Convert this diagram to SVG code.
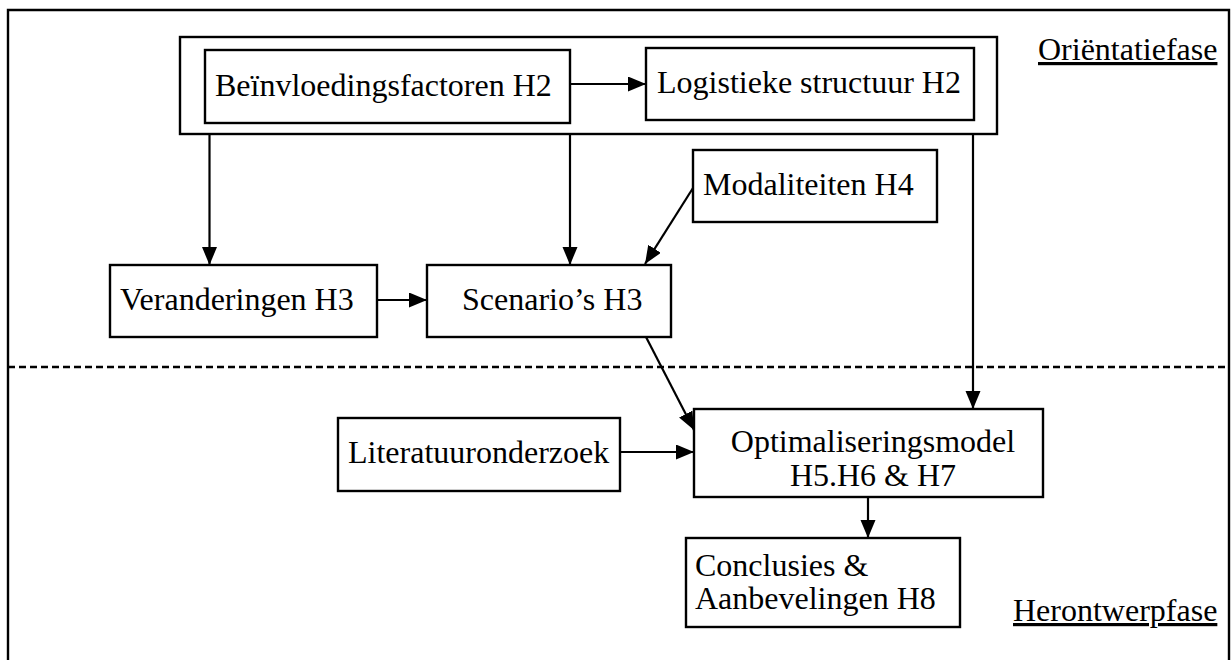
<svg xmlns="http://www.w3.org/2000/svg" width="1231" height="660" viewBox="0 0 1231 660">
  <style>
    .box { fill: #fff; stroke: #000; stroke-width: 2.4; }
    .frame { fill: none; stroke: #000; stroke-width: 2.4; }
    .lbl { font-family: "Liberation Serif", "Times New Roman", serif; font-size: 32px; fill: #000; }
    .phase { font-family: "Liberation Serif", "Times New Roman", serif; font-size: 32px; fill: #000; text-decoration: underline; }
    .conn { fill: none; stroke: #000; stroke-width: 2.2; }
    .sep { fill: none; stroke: #000; stroke-width: 2.4; stroke-dasharray: 7 4; }
  </style>
  <defs>
    <marker id="arrow" markerUnits="userSpaceOnUse" markerWidth="19" markerHeight="16" refX="18" refY="7.5" orient="auto">
      <path d="M0,0 L18,7.5 L0,15 Z" fill="#000"/>
    </marker>
  </defs>

  <rect width="1231" height="660" fill="#fff"/>

  <!-- outer frame, open at the bottom -->
  <path class="frame" d="M8,670 L8,10 L1229,10 L1229,670"/>

  <!-- phase separator -->
  <line class="sep" x1="8" y1="367" x2="1229" y2="367"/>

  <!-- phase titles -->
  <text class="phase" x="1038" y="60">Oriëntatiefase</text>
  <text class="phase" x="1013" y="621">Herontwerpfase</text>

  <!-- H2 grouping -->
  <g id="groep-h2">
    <rect class="box" x="180" y="37" width="817" height="97"/>
  </g>

  <g id="beinvloedingsfactoren">
    <rect class="box" x="205" y="50" width="365" height="73"/>
    <text class="lbl" x="215" y="96">Beïnvloedingsfactoren H2</text>
  </g>

  <g id="logistieke-structuur">
    <rect class="box" x="646" y="48" width="328" height="72"/>
    <text class="lbl" x="657" y="93">Logistieke structuur H2</text>
  </g>

  <g id="modaliteiten">
    <rect class="box" x="693" y="150" width="244" height="72"/>
    <text class="lbl" x="703" y="195">Modaliteiten H4</text>
  </g>

  <g id="veranderingen">
    <rect class="box" x="110" y="265" width="267" height="72"/>
    <text class="lbl" x="120" y="310">Veranderingen H3</text>
  </g>

  <g id="scenarios">
    <rect class="box" x="427" y="265" width="244" height="72"/>
    <text class="lbl" x="462" y="310">Scenario’s H3</text>
  </g>

  <g id="literatuuronderzoek">
    <rect class="box" x="338" y="418" width="282" height="73"/>
    <text class="lbl" x="348" y="463">Literatuuronderzoek</text>
  </g>

  <g id="optimaliseringsmodel">
    <rect class="box" x="694" y="409" width="349" height="88"/>
    <text class="lbl" x="873" y="452" text-anchor="middle">Optimaliseringsmodel</text>
    <text class="lbl" x="873" y="486" text-anchor="middle">H5.H6 &amp; H7</text>
  </g>

  <g id="conclusies">
    <rect class="box" x="686" y="538" width="274" height="89"/>
    <text class="lbl" x="695" y="576">Conclusies &amp;</text>
    <text class="lbl" x="695" y="609">Aanbevelingen H8</text>
  </g>

  <g id="connectors">
    <line class="conn" x1="570" y1="84" x2="646" y2="84" marker-end="url(#arrow)"/>
    <line class="conn" x1="209.5" y1="134" x2="209.5" y2="265" marker-end="url(#arrow)"/>
    <line class="conn" x1="570" y1="134" x2="570" y2="265" marker-end="url(#arrow)"/>
    <line class="conn" x1="693" y1="188" x2="645" y2="264" marker-end="url(#arrow)"/>
    <line class="conn" x1="377" y1="300" x2="427" y2="300" marker-end="url(#arrow)"/>
    <line class="conn" x1="973" y1="134" x2="973" y2="409" marker-end="url(#arrow)"/>
    <line class="conn" x1="646" y1="337" x2="694" y2="430" marker-end="url(#arrow)"/>
    <line class="conn" x1="620" y1="452" x2="694" y2="452" marker-end="url(#arrow)"/>
    <line class="conn" x1="868" y1="497" x2="868" y2="538" marker-end="url(#arrow)"/>
  </g>
</svg>
